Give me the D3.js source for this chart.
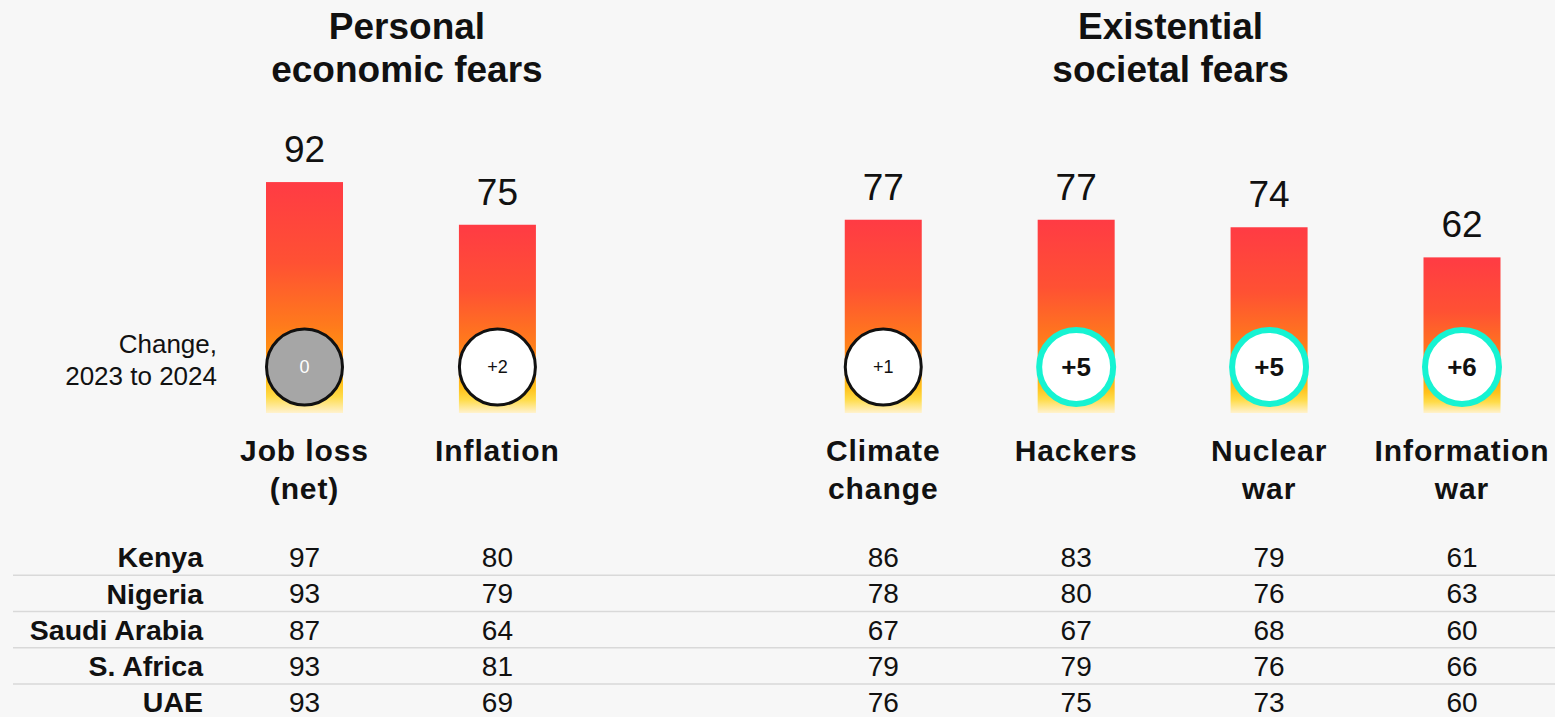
<!DOCTYPE html>
<html>
<head>
<meta charset="utf-8">
<script src="https://cdn.jsdelivr.net/npm/d3@7"></script>
<style>
  html, body { margin: 0; padding: 0; background: #f7f7f7; }
  svg { display: block; font-family: "Liberation Sans", Arial, sans-serif; }
</style>
</head>
<body>
<div id="chart"></div>
<script>
/* DATA */
const categories = ["Job loss", "Inflation", "Climate", "Hackers", "Nuclear", "Information"];
const catLabels = [["Job loss", "(net)"], ["Inflation"], ["Climate", "change"], ["Hackers"], ["Nuclear", "war"], ["Information", "war"]];
const values = [92, 75, 77, 77, 74, 62];
const changes = [0, 2, 1, 5, 5, 6];
const groupTitles = [["Personal", "economic fears"], ["Existential", "societal fears"]];
const groupMembers = [["Job loss", "Inflation"], ["Climate", "Hackers", "Nuclear", "Information"]];
const countries = ["Kenya", "Nigeria", "Saudi Arabia", "S. Africa", "UAE"];
const countryValues = [
  [97, 80, 86, 83, 79, 61],
  [93, 79, 78, 80, 76, 63],
  [87, 64, 67, 67, 68, 60],
  [93, 81, 79, 79, 76, 66],
  [93, 69, 76, 75, 73, 60]
];

/* LAYOUT */
const width = 1555, height = 717;
const barW = 77, baseY = 413, circleY = 367, r = 38;
const titleNudge = [6, -2];

const svg = d3.select("#chart").append("svg")
  .attr("width", width).attr("height", height);

svg.append("rect").attr("width", width).attr("height", height).attr("fill", "#f7f7f7");

// gap slot between the two groups
const xScale = d3.scalePoint()
  .domain(["Job loss", "Inflation", "_gap", "Climate", "Hackers", "Nuclear", "Information"])
  .range([304.5, 1462]);

const yScale = d3.scaleLinear().domain([0, 100]).range([baseY, 162]);

const grad = svg.append("defs").append("linearGradient")
  .attr("id", "barGrad").attr("x1", 0).attr("x2", 0).attr("y1", 0).attr("y2", 1);
[
  [0, "#ff3b44"], [0.35, "#ff5133"], [0.62, "#ff7a1c"], [0.75, "#ff9410"],
  [0.87, "#ffc21c"], [0.93, "#ffdc4a"], [1, "#fff2cf"]
].forEach(([o, c]) => grad.append("stop").attr("offset", o).attr("stop-color", c));

// group titles
groupTitles.forEach((lines, gi) => {
  const m = groupMembers[gi];
  const cx = (xScale(m[0]) + xScale(m[m.length - 1])) / 2 + titleNudge[gi];
  svg.append("text")
    .attr("x", cx).attr("y", 39)
    .attr("text-anchor", "middle")
    .attr("font-size", 37).attr("font-weight", "bold").attr("fill", "#111")
    .selectAll("tspan").data(lines).join("tspan")
    .attr("x", cx).attr("dy", (d, i) => i ? 43 : 0)
    .text(d => d);
});

const data = categories.map((c, i) => ({ key: c, value: values[i], change: changes[i], label: catLabels[i] }));

// bars
svg.selectAll("rect.bar").data(data).join("rect")
  .attr("class", "bar")
  .attr("x", d => xScale(d.key) - barW / 2)
  .attr("y", d => yScale(d.value))
  .attr("width", barW)
  .attr("height", d => baseY - yScale(d.value))
  .attr("fill", "url(#barGrad)");

// value labels
svg.selectAll("text.val").data(data).join("text")
  .attr("class", "val")
  .attr("x", d => xScale(d.key))
  .attr("y", d => yScale(d.value) - 20)
  .attr("text-anchor", "middle")
  .attr("font-size", 37).attr("fill", "#111")
  .text(d => d.value);

// change circles
const circ = svg.selectAll("g.chg").data(data).join("g")
  .attr("class", "chg")
  .attr("transform", d => `translate(${xScale(d.key)},${circleY})`);

circ.append("circle")
  .attr("r", d => d.change >= 5 ? 37 : r)
  .attr("fill", d => d.change === 0 ? "#a6a6a6" : "#fff")
  .attr("stroke", d => d.change >= 5 ? "#16f3d2" : "#111")
  .attr("stroke-width", d => d.change >= 5 ? 6 : 3);

circ.append("text")
  .attr("text-anchor", "middle")
  .attr("dy", "0.36em")
  .attr("font-size", d => d.change >= 5 ? 26 : 18)
  .attr("font-weight", d => d.change >= 5 ? "bold" : "normal")
  .attr("fill", d => d.change === 0 ? "#fff" : "#111")
  .text(d => d.change === 0 ? "0" : "+" + d.change);

// change note
svg.append("text")
  .attr("x", 217).attr("y", 353)
  .attr("text-anchor", "end")
  .attr("font-size", 26).attr("fill", "#111")
  .selectAll("tspan").data(["Change,", "2023 to 2024"]).join("tspan")
  .attr("x", 217).attr("dy", (d, i) => i ? 32 : 0)
  .text(d => d);

// category labels
svg.selectAll("text.cat").data(data).join("text")
  .attr("class", "cat")
  .attr("x", d => xScale(d.key)).attr("y", 461)
  .attr("text-anchor", "middle")
  .attr("font-size", 30).attr("font-weight", "bold")
  .attr("letter-spacing", 0.9).attr("fill", "#111")
  .selectAll("tspan").data(d => d.label.map(t => ({ t, x: xScale(d.key) }))).join("tspan")
  .attr("x", d => d.x).attr("dy", (d, i) => i ? 38 : 0)
  .text(d => d.t);

// table
const rowY = d3.scalePoint().domain(countries).range([557, 702]);
const rowStep = rowY.step();

svg.selectAll("line.sep").data(countries.slice(1)).join("line")
  .attr("class", "sep")
  .attr("x1", 13).attr("x2", width)
  .attr("y1", d => rowY(d) - rowStep / 2)
  .attr("y2", d => rowY(d) - rowStep / 2)
  .attr("stroke", "#d9d9d9").attr("stroke-width", 1.5);

svg.selectAll("text.country").data(countries).join("text")
  .attr("class", "country")
  .attr("x", 203).attr("y", d => rowY(d))
  .attr("dy", "0.36em")
  .attr("text-anchor", "end")
  .attr("font-size", 28.5).attr("font-weight", "bold").attr("fill", "#111")
  .text(d => d);

const cells = [];
countries.forEach((c, ri) => categories.forEach((k, ci) => cells.push({ c, k, v: countryValues[ri][ci] })));

svg.selectAll("text.cell").data(cells).join("text")
  .attr("class", "cell")
  .attr("x", d => xScale(d.k)).attr("y", d => rowY(d.c))
  .attr("dy", "0.36em")
  .attr("text-anchor", "middle")
  .attr("font-size", 28).attr("fill", "#111")
  .text(d => d.v);
</script>
</body>
</html>
